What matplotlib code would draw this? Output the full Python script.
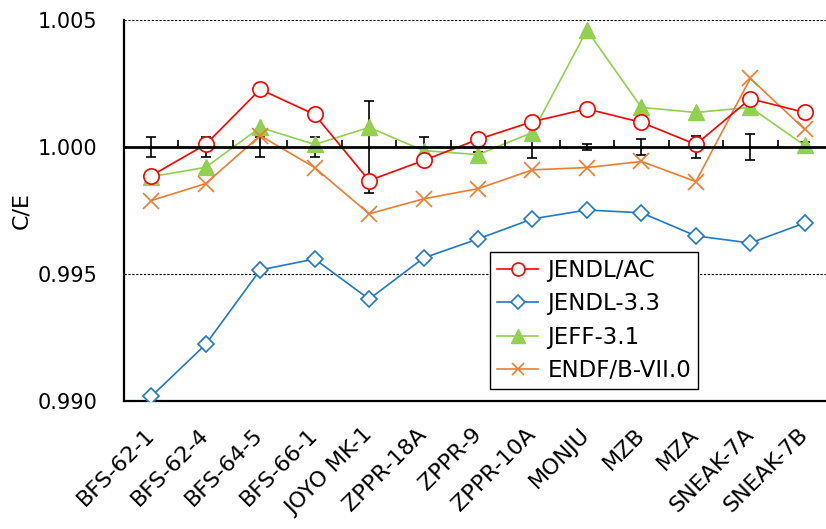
import numpy as np
import matplotlib
matplotlib.use("Agg")
import matplotlib.pyplot as plt

plt.rcParams['font.family'] = ['DejaVu Sans']

cores = ['BFS-62-1', 'BFS-62-4', 'BFS-64-5', 'BFS-66-1', 'JOYO MK-1', 'ZPPR-18A',
         'ZPPR-9', 'ZPPR-10A', 'MONJU', 'MZB', 'MZA', 'SNEAK-7A', 'SNEAK-7B']

jendl_ac = [0.99887, 1.0001, 1.00227, 1.00128, 0.99868, 0.99947,
            1.0003, 1.0010, 1.0015, 1.00097, 1.0001, 1.0019, 1.00136]
jendl33 = [0.99018, 0.99223, 0.99516, 0.99559, 0.99401, 0.99563,
           0.99638, 0.99717, 0.99752, 0.99741, 0.99650, 0.99622, 0.99701]
jeff31 = [0.99883, 0.9992, 1.00077, 1.0001, 1.00077, 0.99986,
          0.9997, 1.00057, 1.0046, 1.00156, 1.00136, 1.00156, 1.00006]
endf7 = [0.99789, 0.99856, 1.00045, 0.99919, 0.99737, 0.99796,
         0.99836, 0.9991, 0.99919, 0.99943, 0.99864, 1.0027, 1.00069]

# experimental uncertainty around C/E = 1
exp_err = [0.0004, 0.0004, 0.0004, 0.0004, 0.0018, 0.0004,
           0.0002, 0.00045, 0.00012, 0.0003, 0.00045, 0.00053, 0.0002]

x = np.arange(len(cores))

fig = plt.figure(figsize=(8.26, 5.29), dpi=100)
ax = fig.add_axes([124/826, 1-401/529, 708/826, 381/529])

ax.axhline(0.995, color='black', lw=0.8, ls=(0, (2, 1.5)), zorder=1)
ax.axhline(1.005, color='black', lw=0.8, ls=(0, (2, 1.5)), zorder=1)

ax.errorbar(x, np.ones(len(x)), yerr=exp_err, fmt='none', ecolor='black',
            elinewidth=1.2, capsize=3.5, capthick=1.2, zorder=3)

ax.plot(x, jendl_ac, color='#FF0000', lw=1.2, marker='o', ms=11,
        mfc='white', mec='#FF0000', mew=1.2, label='JENDL/AC', zorder=5)
ax.plot(x, jendl33, color='#1F78C8', lw=1.2, marker='D', ms=8.5,
        mfc='white', mec='#1F78C8', mew=1.2, label='JENDL-3.3', zorder=4)
ax.plot(x, jeff31, color='#92D050', lw=1.2, marker='^', ms=12,
        mfc='#92D050', mec='#92D050', label='JEFF-3.1', zorder=4)
ax.plot(x, endf7, color='#ED7D31', lw=1.2, marker='x', ms=11,
        mew=1.2, label='ENDF/B-VII.0', zorder=4)

ax.set_xlim(-0.5, len(cores) - 0.5)
ax.set_ylim(0.990, 1.005)
ax.set_yticks([0.990, 0.995, 1.000, 1.005])
ax.set_yticklabels(['0.990', '0.995', '1.000', '1.005'])
ax.set_xticks(x)
ax.set_xticklabels(cores, rotation=45, ha='right', va='center',
                   rotation_mode='anchor', fontsize=16)
ax.tick_params(axis='both', length=0)
ax.tick_params(axis='y', labelsize=15, pad=19)
ax.tick_params(axis='x', pad=22)
ax.set_ylabel('C/E', fontsize=16, labelpad=5)

ax.spines['top'].set_visible(False)
ax.spines['right'].set_visible(False)
ax.spines['left'].set_linewidth(1.6)
ax.spines['bottom'].set_linewidth(1.6)

# horizontal axis crossing at C/E = 1 with ticks between cores
ax2 = ax.twiny()
ax2.set_xlim(ax.get_xlim())
for s in ['bottom', 'left', 'right']:
    ax2.spines[s].set_visible(False)
ax2.spines['top'].set_position(('data', 1.0))
ax2.spines['top'].set_linewidth(2.0)
ax2.spines['top'].set_zorder(2)
ax2.set_xticks(np.arange(0.5, len(cores) - 1, 1.0))
ax2.tick_params(axis='x', direction='out', length=5, width=1.2, labeltop=False)

leg = ax.legend(loc='upper left', bbox_to_anchor=(0.517, 0.391), borderaxespad=0,
                fontsize=16.5, fancybox=False, edgecolor='black', framealpha=1,
                handlelength=1.8, handletextpad=0.4, labelspacing=0.45,
                borderpad=0.3, markerscale=0.85)
leg.get_frame().set_linewidth(1.0)
leg.set_zorder(10)

fig.savefig('out.png', dpi=100)
